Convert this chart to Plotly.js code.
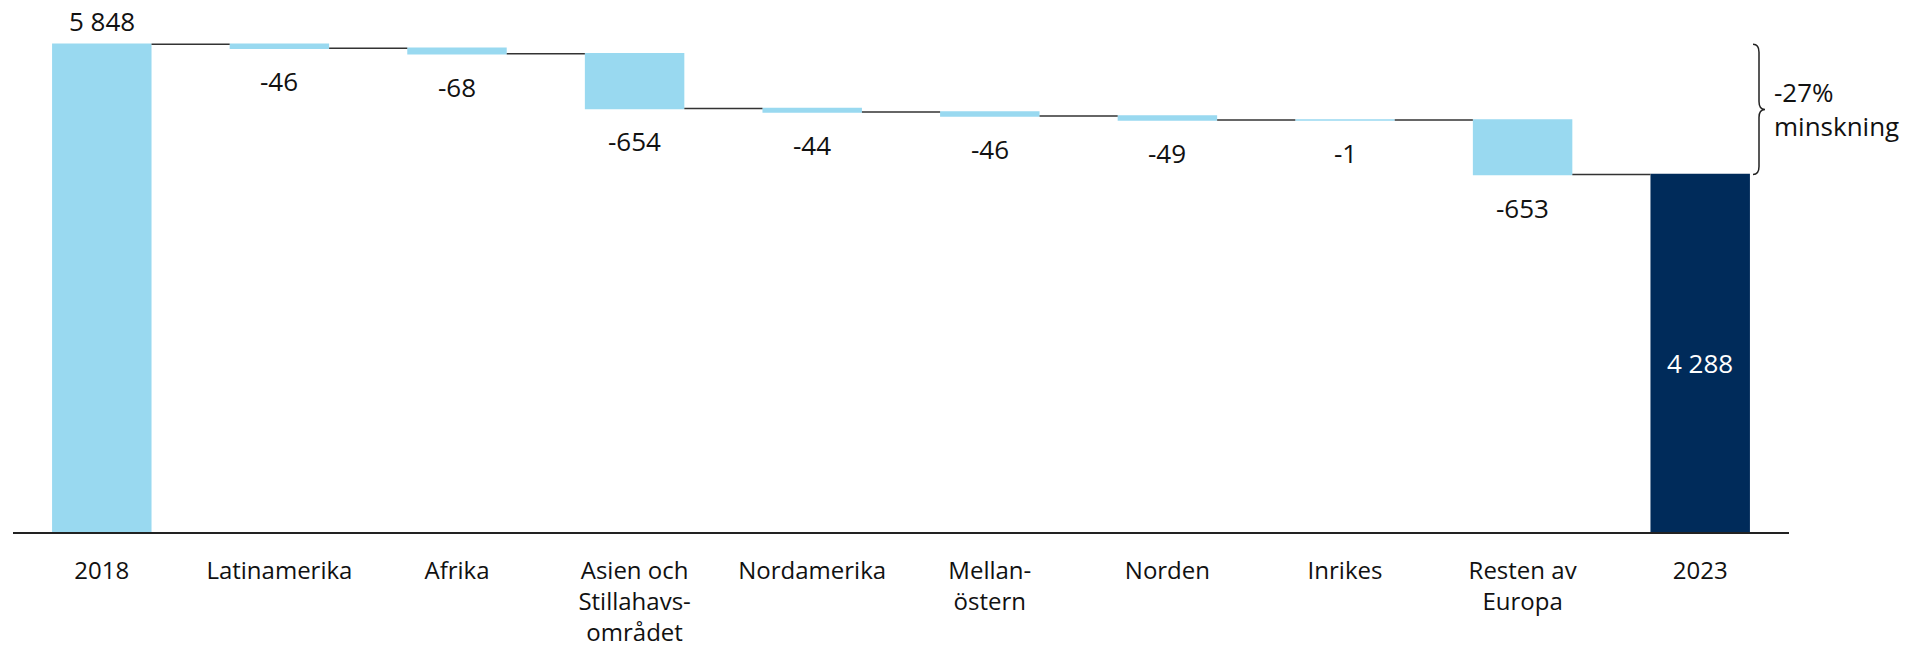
<!DOCTYPE html>
<html>
<head>
<meta charset="utf-8">
<script src="https://cdn.plot.ly/plotly-3.0.1.min.js"></script>
<style>
  html, body { margin: 0; padding: 0; background: #ffffff; }
  #chart { width: 1930px; height: 648px; }
</style>
</head>
<body>
<div id="chart"></div>
<script>
// ---- data ----
const categories = ['2018', 'Latinamerika', 'Afrika', 'Asien och<br>Stillahavs-<br>området', 'Nordamerika',
                    'Mellan-<br>östern', 'Norden', 'Inrikes', 'Resten av<br>Europa', '2023'];
const values = [5848, -46, -68, -654, -44, -46, -49, -1, -653, 4288];
const measures = ['relative', 'relative', 'relative', 'relative', 'relative',
                  'relative', 'relative', 'relative', 'relative', 'total'];
const valueLabels = ['5 848', '-46', '-68', '-654', '-44', '-46', '-49', '-1', '-653', '4 288'];
const bracketLabel = '-27%<br>minskning';

// ---- style ----
const LIGHT = '#99d9f0';
const NAVY = '#002b5a';
const FONT = 'Open Sans, Noto Sans, sans-serif';
const FS = 26;
const TFS = 24;
const ML = 13, MR = 141, MT = 40, MB = 116;
const W = 1930, H = 648;
const PW = W - ML - MR;
const YMAX = 5900;
const PH = H - MT - MB;
const pxPerUnit = PH / YMAX;
const px2paperX = px => (px - ML) / PW;

// cumulative levels from the data
const ends = [];
let run = 0;
values.forEach((v, i) => {
  if (measures[i] === 'total') { ends.push(run); } else { run += v; ends.push(run); }
});

const annotations = values.map((v, i) => {
  const base = { x: i, xref: 'x', yref: 'y', showarrow: false,
                 text: valueLabels[i], font: { family: FONT, size: FS, color: '#111' },
                 xanchor: 'center', yanchor: 'middle' };
  if (measures[i] === 'total') {
    return Object.assign(base, { y: ends[i] / 2, yshift: -10, font: { family: FONT, size: FS, color: '#ffffff' } });
  }
  if (v >= 0) return Object.assign(base, { y: ends[i], yshift: 23 });
  return Object.assign(base, { y: ends[i], yshift: -33 });
});

const yTop = values[0];
const yBot = ends[ends.length - 1];
const yMid = (yTop + yBot) / 2;
annotations.push({
  xref: 'paper', yref: 'y', x: px2paperX(1772), y: yMid, xanchor: 'left', yanchor: 'middle',
  align: 'left', showarrow: false, text: bracketLabel,
  font: { family: FONT, size: FS, color: '#111' }
});

// curly brace path (paper x, data y)
const bx0 = px2paperX(1753), bx1 = px2paperX(1759), bxt = px2paperX(1765);
const r = 8 / pxPerUnit;
const bracePath = `M ${bx0},${yTop} Q ${bx1},${yTop} ${bx1},${yTop - r} L ${bx1},${yMid + r} ` +
  `Q ${bx1},${yMid} ${bxt},${yMid} Q ${bx1},${yMid} ${bx1},${yMid - r} ` +
  `L ${bx1},${yBot + r} Q ${bx1},${yBot} ${bx0},${yBot}`;

const trace = {
  type: 'waterfall',
  x: categories,
  y: values,
  measure: measures,
  textinfo: 'none',
  hoverinfo: 'skip',
  increasing: { marker: { color: LIGHT, line: { width: 0 } } },
  decreasing: { marker: { color: LIGHT, line: { width: 0 } } },
  totals: { marker: { color: NAVY, line: { width: 0 } } },
  connector: { mode: 'between', line: { color: '#333333', width: 1.5 } }
};

const layout = {
  width: W, height: H,
  margin: { l: ML, r: MR, t: MT, b: MB, pad: 0 },
  paper_bgcolor: '#ffffff', plot_bgcolor: '#ffffff',
  showlegend: false,
  waterfallgap: 0.44,
  font: { family: FONT, size: FS, color: '#111' },
  xaxis: {
    type: 'category', range: [-0.5, 9.5], showgrid: false, zeroline: false,
    showline: true, linecolor: '#222222', linewidth: 2, ticks: '', ticklabelstandoff: 16,
    tickfont: { family: FONT, size: TFS, color: '#111' }, fixedrange: true
  },
  yaxis: { visible: false, range: [0, YMAX], fixedrange: true },
  annotations: annotations,
  shapes: [{ type: 'path', xref: 'paper', yref: 'y', path: bracePath,
             line: { color: '#222222', width: 1.5 } }]
};

Plotly.newPlot('chart', [trace], layout, { displayModeBar: false, staticPlot: true });
</script>
</body>
</html>
